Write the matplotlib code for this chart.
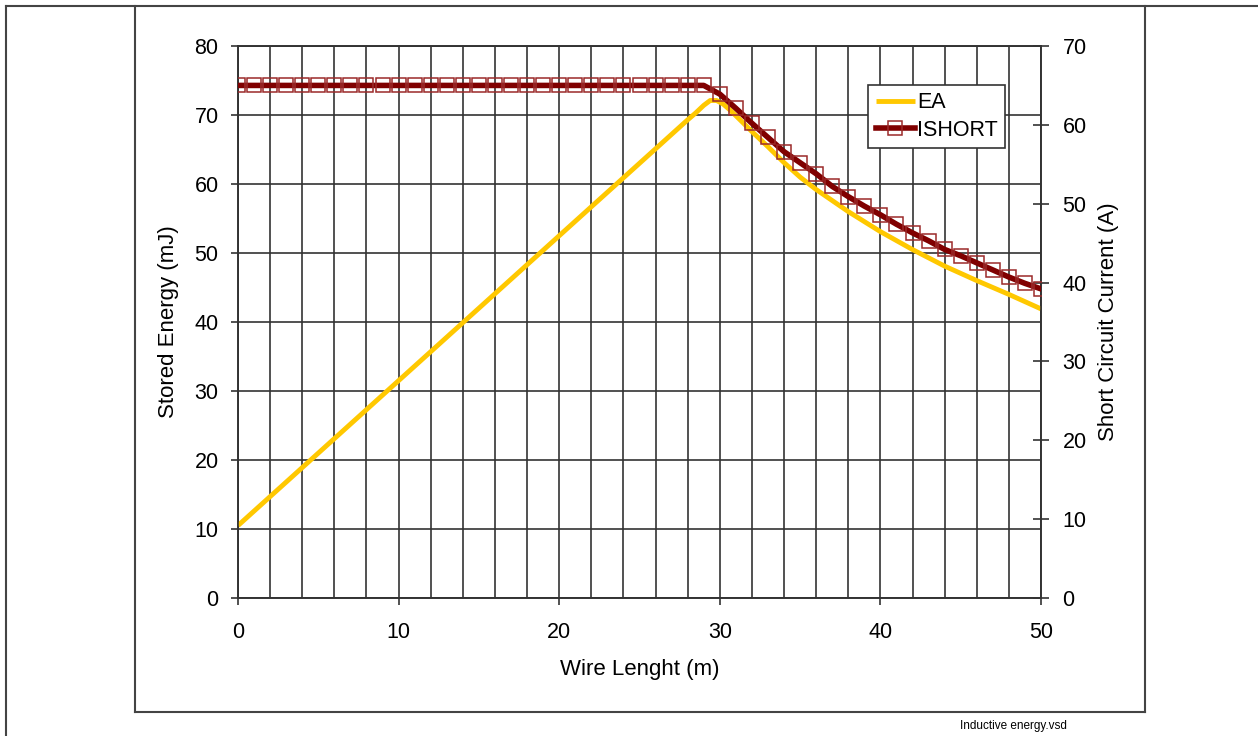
import numpy as np
import matplotlib
matplotlib.use('Agg')
from matplotlib import pyplot as plt
from matplotlib.lines import Line2D

plt.rcParams['font.family'] = ['Liberation Sans', 'DejaVu Sans']

# stored energy EA (mJ) vs wire length (m)
ea_len = [0, 5, 10, 15, 20, 25, 27, 28, 28.5, 29, 29.4, 29.8, 30.2, 30.6, 31, 32, 33, 34, 35, 36,
          38, 40, 42, 44, 46, 48, 50]
ea_val = [10.5, 21.0, 31.5, 42.0, 52.5, 63.0, 67.2, 69.3, 70.3, 71.4, 72.1, 72.1, 71.6, 70.8, 69.9,
          67.6, 65.4, 63.1, 61.0, 59.2, 56.0, 53.1, 50.5, 48.1, 46.0, 44.0, 41.9]

# short circuit current ISHORT (A), one point per metre
ishort_len = list(range(0, 51))
ishort_val = [65.0] * 30 + [63.9, 62.1, 60.2, 58.4, 56.6, 55.2, 53.8, 52.2, 50.9, 49.7,
                             48.6, 47.4, 46.3, 45.3, 44.2, 43.4, 42.5, 41.6, 40.7, 39.9, 39.2]

x_ticks = [0, 10, 20, 30, 40, 50]
left_ticks = [0, 10, 20, 30, 40, 50, 60, 70, 80]
right_ticks = [0, 10, 20, 30, 40, 50, 60, 70]

W, H = 1258, 736
fig = plt.figure(figsize=(W / 100, H / 100), dpi=100)
ax = fig.add_axes([238 / W, 1 - 598 / H, (1041 - 238) / W, (598 - 46) / H])
ax2 = ax.twinx()

grid_c = '#333333'
ax.plot(ea_len, ea_val, color='#FFC800', lw=3.5, solid_capstyle='butt', label='EA', zorder=3)
ax2.plot(ishort_len, ishort_val, color='#800000', lw=4, marker='s', ms=9.5,
         mfc='none', mec='#9B2A2A', mew=1.1, label='ISHORT', zorder=3)

ax.set_xlim(0, 50)
ax.set_ylim(0, 80)
ax2.set_ylim(0, 70)
ax.set_xticks(x_ticks)
ax.set_xticks(np.arange(0, 51, 2), minor=True)
ax.set_yticks(left_ticks)
ax2.set_yticks(right_ticks)

ax.grid(True, which='both', axis='x', color=grid_c, lw=1.2)
ax.grid(True, which='major', axis='y', color=grid_c, lw=1.2)
ax.set_axisbelow(True)

for a in (ax, ax2):
    for s in a.spines.values():
        s.set_color(grid_c)
        s.set_linewidth(1.2)

ax.tick_params(axis='y', which='major', direction='out', length=5, width=1.2,
               color=grid_c, labelsize=15.5, pad=9)
ax.tick_params(axis='x', which='major', direction='out', length=5, width=1.2,
               color=grid_c, labelsize=15.5, pad=12)
ax.tick_params(axis='x', which='minor', length=0)
ax2.tick_params(axis='y', direction='inout', length=11, width=1.2, color=grid_c,
                labelsize=15.5, pad=10)

ax.set_xlabel('Wire Lenght (m)', fontsize=16, labelpad=12)
ax.set_ylabel('Stored Energy (mJ)', fontsize=16, labelpad=11)
ax2.set_ylabel('Short Circuit Current (A)', fontsize=16, labelpad=8)

handles = ax.get_lines()[:1] + ax2.get_lines()[:1]
leg = ax2.legend(handles, ['EA', 'ISHORT'], loc='upper left', bbox_to_anchor=(0.785, 0.93),
                 fontsize=15.5, frameon=True, fancybox=False, framealpha=1, edgecolor='#333333',
                 handlelength=1.8, handletextpad=0.1, borderpad=0.35, labelspacing=0.3,
                 borderaxespad=0, markerscale=1.0)
leg.get_frame().set_linewidth(1.2)
leg.set_zorder(10)

# page frame lines (figure pixel coordinates)
def frame_line(xs, ys):
    fig.add_artist(Line2D([x / W for x in xs], [1 - y / H for y in ys],
                          color='#444444', lw=1.5, transform=fig.transFigure))

frame_line([6, W], [6, 6])
frame_line([6, 6], [6, H])
frame_line([135, 135], [6, 712])
frame_line([135, 1145], [712, 712])
frame_line([1145, 1145], [6, 712])

fig.text(1013 / W, 1 - 726 / H, 'Inductive energy.vsd', fontsize=8.5, ha='center', va='center')

fig.savefig('out.png', dpi=100)
